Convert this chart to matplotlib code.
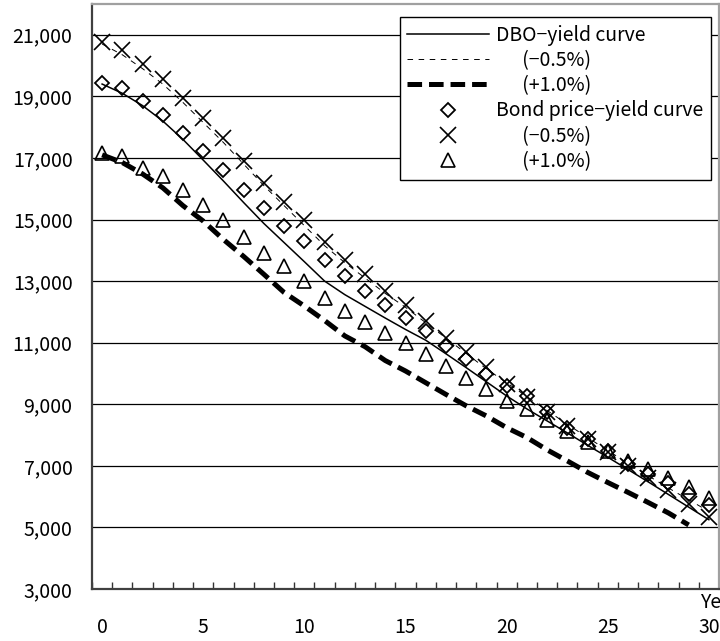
import numpy as np
import matplotlib
matplotlib.use("Agg")
import matplotlib.pyplot as plt
from matplotlib.ticker import FuncFormatter, MultipleLocator

plt.rcParams["font.family"] = ["Noto Sans CJK JP", "DejaVu Sans"]
plt.rcParams["lines.scale_dashes"] = False

years = np.arange(0, 31)

# DBO - yield curve (lines)
dbo_base = [19400, 19100, 18700, 18200, 17600, 16930, 16250, 15550, 14870, 14250,
            13630, 13000, 12560, 12180, 11800, 11430, 11080, 10640, 10190, 9730,
            9270, 8850, 8460, 8070, 7670, 7280, 6880, 6480, 6070, 5660, 5250]
dbo_minus05 = [20700, 20350, 19900, 19400, 18800, 18150, 17500, 16800, 16100, 15450,
               14800, 14150, 13600, 13100, 12600, 12150, 11650, 11150, 10650, 10150,
               9700, 9250, 8800, 8350, 7920, 7500, 7080, 6680, 6280, 5900, 5520]
dbo_plus10 = [17100, 16850, 16480, 16030, 15450, 14950, 14350, 13800, 13220, 12630,
              12190, 11720, 11220, 10870, 10420, 10080, 9700, 9320, 8950, 8620,
              8240, 7920, 7520, 7160, 6790, 6460, 6140, 5810, 5470, 5080, np.nan]

# Bond price - yield curve (markers)
bond_base = [19430, 19270, 18840, 18410, 17810, 17220, 16620, 15970, 15380, 14780,
             14300, 13700, 13160, 12680, 12240, 11810, 11380, 10890, 10460, 9970,
             9590, 9270, 8760, 8240, 7870, 7490, 7050, 6730, 6430, 6080, 5730]
bond_minus05 = [20780, 20500, 20050, 19560, 18950, 18300, 17650, 16900, 16200, 15580,
                14980, 14280, 13680, 13220, 12680, 12220, 11700, 11160, 10700, 10200,
                9650, 9250, 8750, 8300, 7860, 7450, 7000, 6600, 6200, 5750, 5350]
bond_plus10 = [17170, 17050, 16680, 16410, 15970, 15480, 15000, 14420, 13920, 13490,
               13000, 12460, 12030, 11680, 11330, 11000, 10620, 10240, 9860, 9490,
               9110, 8840, 8480, 8130, 7760, 7490, 7160, 6890, 6620, 6300, 5970]

labels = ["DBO\u2212yield curve", "      (\u22120.5%)", "      (+1.0%)",
          "Bond price\u2212yield curve", "      (\u22120.5%)", "      (+1.0%)"]

fig = plt.figure(figsize=(7.2, 6.41), dpi=100)
ax = fig.add_axes([92 / 720, 52 / 641, 627 / 720, 585 / 641])

ax.plot(years, dbo_base, color="black", lw=1.1, label=labels[0])
ax.plot(years, dbo_minus05, color="black", lw=0.7, dashes=(4, 4), label=labels[1])
ax.plot(years, dbo_plus10, color="black", lw=3.6, dashes=(10.5, 5), label=labels[2])
ax.plot(years, bond_base, ls="none", marker="D", ms=7, mfc="none", mec="black",
        mew=1.3, label=labels[3])
ax.plot(years, bond_minus05, ls="none", marker="x", ms=11, mec="black",
        mew=1.2, label=labels[4])
ax.plot(years, bond_plus10, ls="none", marker="^", ms=10.5, mfc="none", mec="black",
        mew=1.2, label=labels[5])

ax.set_xlim(-0.5, 30.5)
ax.set_ylim(3000, 22000)
ax.set_yticks(np.arange(3000, 21001, 2000))
ax.yaxis.set_major_formatter(FuncFormatter(lambda v, p: f"{int(v):,}"))
ax.set_xticks(np.arange(0, 31, 5))
ax.xaxis.set_minor_locator(MultipleLocator(1, offset=0.5))
ax.tick_params(axis="y", length=0, pad=14, labelsize=14)
ax.tick_params(axis="x", which="major", length=0, pad=20, labelsize=14)
ax.tick_params(axis="x", which="minor", direction="in", length=5, width=1, color="#333333")
ax.grid(axis="y", color="black", lw=0.9)
ax.set_axisbelow(True)

for side in ("left", "bottom"):
    ax.spines[side].set_color("#404040")
    ax.spines[side].set_linewidth(1.6)
for side in ("top", "right"):
    ax.spines[side].set_color("#a0a0a0")
    ax.spines[side].set_linewidth(1.6)

leg = ax.legend(loc="upper right", bbox_to_anchor=(0.987, 0.978), borderaxespad=0,
                fontsize=14, handlelength=4.2, handletextpad=0.35, numpoints=1,
                borderpad=0.4, fancybox=False, framealpha=1, edgecolor="black",
                labelspacing=0.22)
leg.get_frame().set_linewidth(1.0)

fig.text(700 / 720, 1 - 602 / 641, "Years", ha="left", va="center", fontsize=14)

fig.savefig("out.png", dpi=100)
